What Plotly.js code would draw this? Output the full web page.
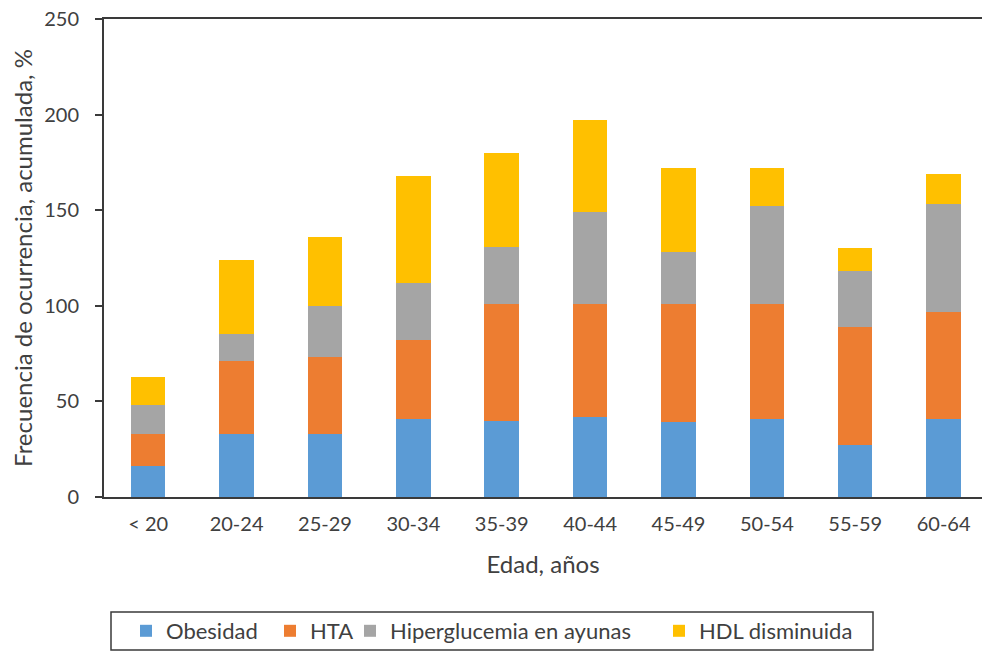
<!DOCTYPE html>
<html>
<head>
<meta charset="utf-8">
<script src="https://cdn.plot.ly/plotly-3.0.1.min.js"></script>
<style>
  html, body { margin: 0; padding: 0; background: #ffffff; overflow: hidden; }
  #chart { width: 982px; height: 656px; }
</style>
</head>
<body>
<div id="chart"></div>
<script>
// Age groups (x categories)
const ageGroups = ['< 20', '20-24', '25-29', '30-34', '35-39', '40-44', '45-49', '50-54', '55-59', '60-64'];

// Frequency of each component per age group, %
const obesidad      = [16, 33, 33, 41, 40, 42, 39, 41, 27, 41];
const hta           = [17, 38, 40, 41, 61, 59, 62, 60, 62, 56];
const hiperglucemia = [15, 14, 27, 30, 30, 48, 27, 51, 29, 56];
const hdlDisminuida = [15, 39, 36, 56, 49, 48, 44, 20, 12, 16];

const seriesNames = ['Obesidad', 'HTA', 'Hiperglucemia en ayunas', 'HDL disminuida'];
const seriesValues = [obesidad, hta, hiperglucemia, hdlDisminuida];
const seriesColors = ['#5B9BD5', '#ED7D31', '#A5A5A5', '#FFC000'];
const legendIds = ['legend', 'legend2', 'legend3', 'legend4'];

const FONT = 'Lato, "Open Sans", sans-serif';
const TEXT = '#404040';
const LINE = '#3a3a3a';

const traces = seriesNames.map((name, i) => ({
  type: 'bar',
  name: name,
  x: ageGroups,
  y: seriesValues[i],
  marker: { color: seriesColors[i], line: { width: 0 } },
  legend: legendIds[i],
  hoverinfo: 'x+y+name'
}));

// Plot area geometry (pixels) used to place the legend row under the chart
const W = 982, H = 656;
const M = { l: 104, r: 0, t: 19, b: 159 };
const plotW = W - M.l - M.r;
const plotH = H - M.t - M.b;
const px2x = px => (px - M.l) / plotW;
const py2y = py => (H - M.b - py) / plotH;

const legendRowY = py2y(631);
const legendLeft = [126, 270, 350, 659];

const legendBase = {
  orientation: 'h',
  xanchor: 'left',
  yanchor: 'middle',
  y: legendRowY,
  bgcolor: 'rgba(0,0,0,0)',
  borderwidth: 0,
  font: { family: FONT, size: 22, color: TEXT },
  itemclick: false,
  itemdoubleclick: false
};

const layout = {
  width: W,
  height: H,
  margin: M,
  paper_bgcolor: '#ffffff',
  plot_bgcolor: '#ffffff',
  barmode: 'stack',
  bargap: 0.61,
  font: { family: FONT, color: TEXT },
  xaxis: {
    type: 'category',
    range: [-0.5, 9.434],
    showgrid: false,
    zeroline: false,
    showline: true,
    linecolor: LINE,
    linewidth: 2,
    mirror: true,
    ticks: '',
    tickfont: { family: FONT, size: 20, color: TEXT },
    ticklabelstandoff: 8,
    title: { text: 'Edad, años', font: { family: FONT, size: 24, color: TEXT }, standoff: 22 }
  },
  yaxis: {
    range: [0, 250],
    tickvals: [0, 50, 100, 150, 200, 250],
    showgrid: false,
    zeroline: false,
    showline: true,
    linecolor: LINE,
    linewidth: 2,
    ticks: 'outside',
    ticklen: 7,
    tickwidth: 2,
    tickcolor: LINE,
    tickfont: { family: FONT, size: 20, color: TEXT },
    ticklabelstandoff: 12,
    title: { text: 'Frecuencia de ocurrencia, acumulada, %', font: { family: FONT, size: 24, color: TEXT }, standoff: 5 }
  },
  legend:  Object.assign({}, legendBase, { x: px2x(legendLeft[0]) }),
  legend2: Object.assign({}, legendBase, { x: px2x(legendLeft[1]) }),
  legend3: Object.assign({}, legendBase, { x: px2x(legendLeft[2]) }),
  legend4: Object.assign({}, legendBase, { x: px2x(legendLeft[3]) }),
  shapes: [{
    type: 'rect',
    xref: 'paper', yref: 'paper',
    x0: px2x(111), x1: px2x(873),
    y0: py2y(650), y1: py2y(612),
    line: { color: LINE, width: 1.5 },
    fillcolor: 'rgba(0,0,0,0)',
    layer: 'below'
  }],
  showlegend: true
};

Plotly.newPlot('chart', traces, layout, { displayModeBar: false });
</script>
</body>
</html>
